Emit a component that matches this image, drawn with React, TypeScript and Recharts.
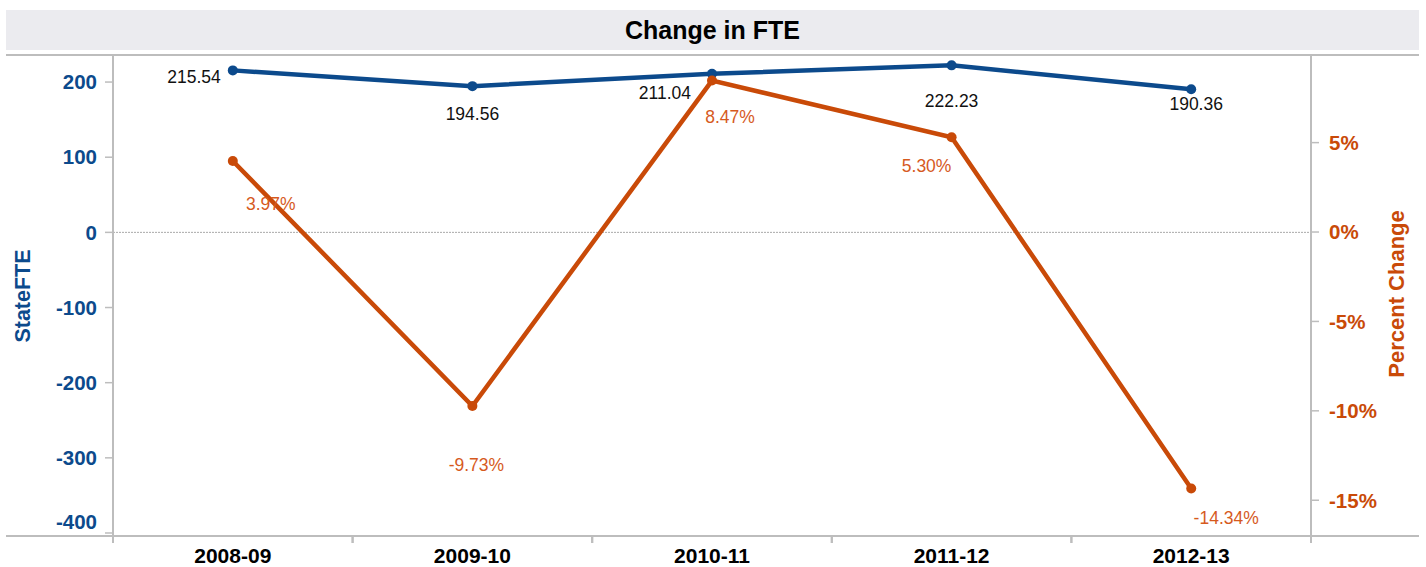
import React from 'react';
import { LineChart, Line, XAxis, YAxis, ReferenceLine, LabelList } from 'recharts';

const years = ['2008-09', '2009-10', '2010-11', '2011-12', '2012-13'];
const stateFte = [215.54, 194.56, 211.04, 222.23, 190.36];
const pctChange = [3.97, -9.73, 8.47, 5.3, -14.34];
const fteTicks = [-400, -300, -200, -100, 0, 100, 200];
const pctTicks = [-15, -10, -5, 0, 5];

const BLUE = '#0c4a8c';
const ORANGE = '#c94a08';
const ORANGE_TEXT = '#d65a1e';
const GRID = '#bdbdbd';
const FONT = '"Liberation Sans", Arial, sans-serif';

// label placement relative to each point: [dx, dy, anchor]
const fteLabelPos: [number, number, string][] = [
  [-12, 6, 'end'],
  [0, 28, 'middle'],
  [-21, 19, 'end'],
  [0, 35, 'middle'],
  [5, 14, 'middle'],
];
const pctLabelPos: [number, number, string][] = [
  [38, 43, 'middle'],
  [4, 59, 'middle'],
  [18, 36, 'middle'],
  [-25, 29, 'middle'],
  [35, 29, 'middle'],
];

const data = years.map((year, i) => ({ year, fte: stateFte[i], pct: pctChange[i] }));

const PLOT_BOTTOM = 536;
const BAND = (1311 - 113) / years.length;

const makeLabel = (pos: [number, number, string][], color: string, fmt: (v: number) => string) =>
  (props: any) => {
    const { x, y, value, index } = props;
    const [dx, dy, anchor] = pos[index];
    return (
      <text x={x + dx} y={y + dy} dy="0.355em" textAnchor={anchor} fill={color} fontSize={17.5} fontFamily={FONT}>
        {fmt(value)}
      </text>
    );
  };

const XTick = (props: any) => {
  const { x, payload } = props;
  return (
    <g>
      <line x1={x - BAND / 2} x2={x - BAND / 2} y1={PLOT_BOTTOM} y2={PLOT_BOTTOM + 7} stroke={GRID} strokeWidth={2} />
      <line x1={x + BAND / 2} x2={x + BAND / 2} y1={PLOT_BOTTOM} y2={PLOT_BOTTOM + 7} stroke={GRID} strokeWidth={2} />
      <text x={x} y={556} dy="0.355em" textAnchor="middle" fill="#000" fontWeight="bold" fontSize={21} fontFamily={FONT}>
        {payload.value}
      </text>
    </g>
  );
};

// left tick: the bottom label is lifted so it stays above the axis line
const FteTick = (props: any) => {
  const { x, y, payload } = props;
  const lift = payload.value === fteTicks[0] ? -11 : 0;
  return (
    <text x={x} y={y + lift} dy="0.355em" textAnchor="end" fill={BLUE} fontWeight="bold" fontSize={20.5} fontFamily={FONT}>
      {payload.value}
    </text>
  );
};

export default function App() {
  return (
    <div style={{ position: 'absolute', left: 0, top: 0, width: 1426, height: 567, background: '#fff', fontFamily: FONT }}>
      <div
        style={{
          position: 'absolute', left: 6, top: 10, width: 1413, height: 40, background: '#ebebef',
          textAlign: 'center', lineHeight: '40px', fontWeight: 'bold', fontSize: 25, color: '#000',
        }}
      >
        Change in FTE
      </div>
      <div style={{ position: 'absolute', left: 6, top: 54, width: 1413, height: 2, background: GRID }} />
      <div style={{ position: 'absolute', left: 6, top: PLOT_BOTTOM - 1, width: 1413, height: 2, background: GRID }} />
      <svg width={1426} height={567} style={{ position: 'absolute', left: 0, top: 0, pointerEvents: 'none' }}>
        <text x={22} y={296} transform="rotate(-90 22 296)" textAnchor="middle" dy="0.355em" fill={BLUE} fontWeight="bold" fontSize={21.5} fontFamily={FONT}>
          StateFTE
        </text>
        <text x={1396} y={294} transform="rotate(-90 1396 294)" textAnchor="middle" dy="0.355em" fill={ORANGE} fontWeight="bold" fontSize={22} fontFamily={FONT}>
          Percent Change
        </text>
      </svg>
      <div style={{ position: 'absolute', left: 0, top: 0 }}>
        <LineChart width={1426} height={567} data={data} margin={{ top: 55, right: 0, bottom: 0, left: 0 }}>
          <XAxis
            dataKey="year"
            height={31}
            axisLine={false}
            tickLine={false}
            tick={<XTick />}
            interval={0}
            padding={{ left: BAND / 2, right: BAND / 2 }}
          />
          <YAxis
            yAxisId="fte"
            width={113}
            domain={[-404, 236]}
            ticks={fteTicks}
            axisLine={{ stroke: GRID, strokeWidth: 2 }}
            tickLine={{ stroke: GRID, strokeWidth: 1.5 }}
            tickSize={8}
            tickMargin={8}
            tick={<FteTick />}
          />
          <YAxis
            yAxisId="pct"
            orientation="right"
            width={115}
            domain={[-17, 9.9]}
            ticks={pctTicks}
            tickFormatter={(v: number) => `${v}%`}
            axisLine={{ stroke: GRID, strokeWidth: 2 }}
            tickLine={{ stroke: GRID, strokeWidth: 1.5 }}
            tickSize={8}
            tickMargin={10}
            tick={{ fill: ORANGE, fontWeight: 'bold', fontSize: 20.5, fontFamily: FONT }}
          />
          <ReferenceLine yAxisId="fte" y={0} stroke="#aaa" strokeWidth={1} strokeDasharray="2 1" />
          <Line
            yAxisId="fte"
            dataKey="fte"
            stroke={BLUE}
            strokeWidth={4.5}
            dot={{ r: 5, fill: BLUE, stroke: BLUE, strokeWidth: 0 }}
            activeDot={false}
            isAnimationActive={false}
          >
            <LabelList dataKey="fte" content={makeLabel(fteLabelPos, '#111', (v) => v.toFixed(2))} />
          </Line>
          <Line
            yAxisId="pct"
            dataKey="pct"
            stroke={ORANGE}
            strokeWidth={4.5}
            dot={{ r: 5, fill: ORANGE, stroke: ORANGE, strokeWidth: 0 }}
            activeDot={false}
            isAnimationActive={false}
          >
            <LabelList dataKey="pct" content={makeLabel(pctLabelPos, ORANGE_TEXT, (v) => `${v.toFixed(2)}%`)} />
          </Line>
        </LineChart>
      </div>
    </div>
  );
}
